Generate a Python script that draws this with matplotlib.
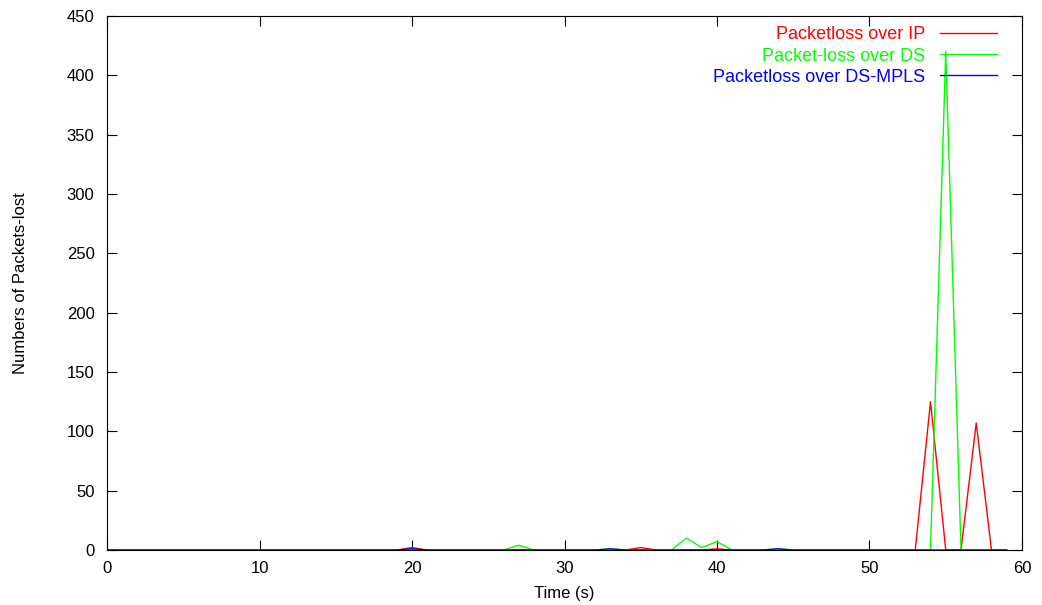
from matplotlib import pyplot as plt

# Dados (pacotes perdidos por segundo)
time = list(range(60))
loss_ip = [0] * 20 + [2] + [0] * 14 + [2] + [0] * 4 + [1] + [0] * 13 + [125, 0, 0, 107, 0, 0]
loss_ds = ([0] * 27 + [4] + [0] * 5 + [1] + [0] * 4 + [10, 2, 7] + [0] * 3 + [1]
           + [0] * 10 + [420] + [0] * 4)
loss_mpls = [0] * 20 + [1] + [0] * 12 + [1] + [0] * 10 + [1] + [0] * 15

plt.rcParams['font.family'] = ['Liberation Sans', 'DejaVu Sans']

fig = plt.figure(figsize=(10.42, 6.05), dpi=100)
ax = fig.add_axes([0.1027, 0.0909, 0.8781, 0.8827])

ax.plot(time, loss_ip, color='#ff0000', linewidth=1, label='Packetloss over IP')
ax.plot(time, loss_ds, color='#00ff00', linewidth=1, label='Packet-loss over DS')
ax.plot(time, loss_mpls, color='#0000ff', linewidth=1, label='Packetloss over DS-MPLS')

ax.set_xlim(0, 60)
ax.set_ylim(0, 450)
ax.set_xticks(range(0, 61, 10))
ax.set_yticks(range(0, 451, 50))
ax.tick_params(direction='in', top=True, right=True, length=7, labelsize=12)
ax.tick_params(axis='y', pad=9)
ax.tick_params(axis='x', pad=8)
ax.set_xlabel('Time (s)', fontsize=12, labelpad=7)
ax.set_ylabel('Numbers of Packets-lost', fontsize=12, labelpad=28)

ax.legend(loc='upper right', bbox_to_anchor=(0.989, 1.0075), frameon=False,
          markerfirst=False, labelcolor='linecolor', fontsize=13, handlelength=3.2,
          labelspacing=0.23, borderaxespad=0.4, handletextpad=0.8)

fig.savefig('out.png', dpi=100)
